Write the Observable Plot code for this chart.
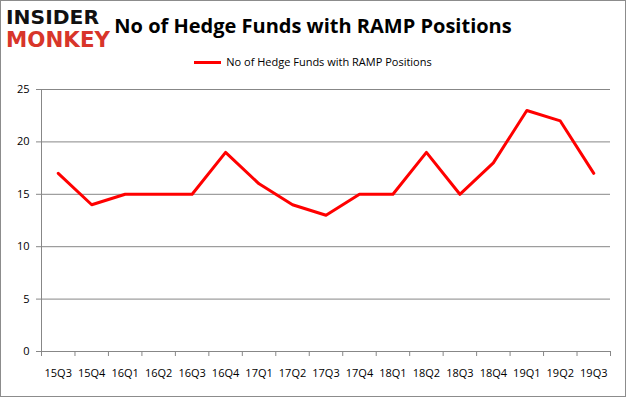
<!DOCTYPE html>
<html><head><meta charset="utf-8">
<script src="https://cdn.jsdelivr.net/npm/d3@7"></script>
<script src="https://cdn.jsdelivr.net/npm/@observablehq/plot@0.6"></script>
<style>
body{margin:0;background:#fff;}
#wrap{position:relative;width:626px;height:397px;overflow:hidden;background:#fff;}
#frame{position:absolute;left:0;top:0;width:624px;height:395px;border:1px solid #8c8c8c;pointer-events:none;}
#head{position:relative;height:80px;}
.logo{position:absolute;left:6px;font-family:"DejaVu Sans",sans-serif;font-weight:bold;white-space:nowrap;transform-origin:0 0;line-height:1;}
#l1{top:8px;color:#111;font-size:22px;}
#l2{top:29px;color:#d8352a;font-size:24px;}
#title{position:absolute;left:0;width:626px;top:12px;text-align:center;font-family:"Open Sans",sans-serif;font-weight:bold;font-size:20px;color:#000;padding-left:0;white-space:nowrap;}
#legend{position:absolute;left:0;top:54px;width:626px;text-align:center;font-family:"Open Sans",sans-serif;font-size:11px;color:#000;white-space:nowrap;}
#legend .sw{display:inline-block;width:27px;height:3px;background:#ff0000;vertical-align:middle;margin-right:5px;position:relative;top:-1px;}
#chart{position:absolute;left:0;top:80px;}
</style></head>
<body>
<div id="wrap">
  <div id="head">
    <div class="logo" id="l1">INSIDER</div>
    <div class="logo" id="l2">MONKEY</div>
    <div id="title">No of Hedge Funds with RAMP Positions</div>
    <div id="legend"><span class="sw"></span>No of Hedge Funds with RAMP Positions</div>
  </div>
  <div id="chart"></div>
  <div id="frame"></div>
</div>
<script>
const quarters = ["15Q3","15Q4","16Q1","16Q2","16Q3","16Q4","17Q1","17Q2","17Q3","17Q4","18Q1","18Q2","18Q3","18Q4","19Q1","19Q2","19Q3"];
const positions = [17,14,15,15,15,19,16,14,13,15,15,19,15,18,23,22,17];
const yTicks = [0,5,10,15,20,25];

function fit(id, w, h){
  const el = document.getElementById(id);
  const r = el.getBoundingClientRect();
  el.style.transform = `scale(${w/r.width},${h/r.height})`;
}
fit("l1", 93, 19);
fit("l2", 104, 22);

const data = quarters.map((q,i)=>({i, q, v: positions[i]}));
const idx = quarters.map((_,i)=>i);
const edges = quarters.map((_,i)=>i-0.5).concat([quarters.length-0.5]);
const grid = "#878787";

const plot = Plot.plot({
  width: 626, height: 317,
  marginTop: 9, marginBottom: 46, marginLeft: 41, marginRight: 16,
  x: {type: "linear", domain: [-0.5, quarters.length - 0.5]},
  y: {domain: [0, 25]},
  style: {fontFamily: "Open Sans, sans-serif", fontSize: "11px", color: "#000", background: "transparent"},
  marks: [
    Plot.ruleY(yTicks, {stroke: grid, strokeWidth: 1}),
    Plot.ruleX([-0.5], {stroke: grid, strokeWidth: 1}),
    Plot.axisY({ticks: yTicks, tickSize: 5, tickPadding: 7, stroke: grid, fill: "#000", label: null}),
    Plot.axisX({ticks: edges, tickSize: 5, tickFormat: () => "", stroke: grid, label: null}),
    Plot.axisX({ticks: idx, tickSize: 0, tickPadding: 18, tickFormat: i => quarters[i], fill: "#000", label: null}),
    Plot.line(data, {x: "i", y: "v", stroke: "#ff0000", strokeWidth: 3})
  ]
});
document.getElementById("chart").appendChild(plot);
</script>
</body></html>
